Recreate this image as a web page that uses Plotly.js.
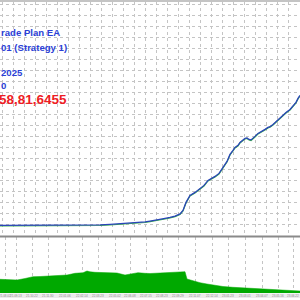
<!DOCTYPE html>
<html><head><meta charset="utf-8">
<script src="https://cdn.plot.ly/plotly-3.0.1.min.js"></script>
<style>html,body{margin:0;padding:0;background:#fff}#c{width:300px;height:300px}</style>
</head><body><div id="c"></div>
<script>
// Main chart: balance/equity (arbitrary units)
const mainX = [0,20,40,60,70,80,100,110,120,130,140,145,150,155,160,165,170,175,180,183,186,188,190,195,200,204,208,212,215,219,222,225,227,230,233,235,238,240,243,245,247,249,251,253,255,258,260,263,265,268,270,273,275,278,280,283,286,290,293,296,298,300];
const mainY = [10,10,10,10,10.2,10.5,10.5,11,11.5,12,13,13.5,14.3,15,16,17,18,19.3,21.5,25,33,37,40,43,47,50,55,57,59,62,66,71,74,81,85,88,90,93,95.5,97,97.5,96,95.5,97,99,102,103,105,106,108,108.7,111,113,115.5,118,120.5,123,126,130,133,137,140];
// Bottom panel: green area values
const subX = [0,8,17,25,33,40,50,60,67,75,83,87,90,95,100,110,117,125,133,138,145,150,160,167,175,180,185,187,190,195,200,207,213,223,233,250,267,283,300];
const subY = [13.7,13.5,13,14.5,16.3,16.5,17,17.5,18,19.7,20.3,22,21.2,20.7,20.5,20.2,20,18,19,20.3,19.7,19.5,20,20.3,20.5,21,21.3,14,13,11.5,10.3,9,8,6.5,5.7,4.7,3.7,3,2];
const dateTicks = [5,16,32,48,65,82,98,115,130,146,162,178,195,212,228,245,262,278,293];
const dateLabels = ["21.08.02","21.09.13","21.10.22","21.11.30","22.01.06","22.02.14","22.03.23","22.05.02","22.06.08","22.07.15","22.08.23","22.09.29","22.11.07","22.12.14","23.01.23","23.03.01","23.04.07","23.05.16","23.06.22"];
const textLines = ["rade Plan EA","01 (Strategy 1)","2025","0"];
const bigText = "58,81,6455";

const blue = "#2a45b8";
const traces = [
  {x: mainX, y: mainY, type:"scatter", mode:"lines", line:{color:"#3cb34a", width:1.2}, xaxis:"x", yaxis:"y", hoverinfo:"skip"},
  {x: mainX, y: mainY.map(v=>v+0.6), type:"scatter", mode:"lines", line:{color:blue, width:1.3}, xaxis:"x", yaxis:"y", hoverinfo:"skip"},
  {x: subX, y: subY, type:"scatter", mode:"lines", fill:"tozeroy", fillcolor:"#00a900", line:{color:"#00a900", width:0.5}, xaxis:"x2", yaxis:"y2", hoverinfo:"skip"}
];
const ann = [];
const ys = [33,47.5,72.5,86];
textLines.forEach((t,i)=>ann.push({text:t, xref:"paper", yref:"paper", x:0, y:1-ys[i]/300, xanchor:"left", yanchor:"middle", xshift:-1, showarrow:false, font:{family:"Liberation Sans, Arial", size:9.6, color:"#2b3fd6", weight:"bold"}}));
ann.push({text:bigText, xref:"paper", yref:"paper", x:0, y:1-100/300, xanchor:"left", yanchor:"middle", xshift:-3, showarrow:false, font:{family:"Liberation Sans, Arial", size:13.5, color:"#ee1c24", weight:"bold"}});
dateTicks.forEach((v,i)=>ann.push({text:dateLabels[i], xref:"x2", yref:"paper", x:v, y:1-295.8/300, xanchor:"center", yanchor:"middle", showarrow:false, font:{family:"Liberation Sans, Arial", size:3, color:"#8a8a8a"}}));

const layout = {
  width:300, height:300, margin:{l:0,r:0,t:0,b:0}, paper_bgcolor:"#fff", plot_bgcolor:"#fff", showlegend:false,
  xaxis:{domain:[0,1], range:[0,300], dtick:11, tick0:2, showgrid:true, gridcolor:"#c4c4c4", griddash:"dot", gridwidth:1, showticklabels:false, zeroline:false, ticks:"", anchor:"y"},
  yaxis:{domain:[1-236/300, 1-1.5/300], range:[0,234.5], dtick:11, tick0:1, showgrid:true, gridcolor:"#c4c4c4", griddash:"dot", showticklabels:false, zeroline:false, ticks:""},
  xaxis2:{domain:[0,1], range:[0,300], anchor:"y2", tickvals:dateTicks, showgrid:true, gridcolor:"#c4c4c4", griddash:"dot", showticklabels:false, ticks:"", zeroline:false},
  yaxis2:{domain:[1-293/300, 1-237/300], range:[0,56], showgrid:false, showticklabels:false, zeroline:false, ticks:""},
  shapes:[
    {type:"line", xref:"paper", yref:"paper", x0:0, x1:1, y0:1-1/300, y1:1-1/300, line:{color:"#b0b0b0", width:1.5}},
    {type:"line", xref:"paper", yref:"paper", x0:0, x1:1, y0:1-236.5/300, y1:1-236.5/300, line:{color:"#8a8a8a", width:2}},
    {type:"rect", xref:"paper", yref:"paper", x0:0, x1:1, y0:1-298/300, y1:1-293.5/300, fillcolor:"#ececec", line:{width:0}, layer:"below"}
  ],
  annotations: ann
};
Plotly.newPlot("c", traces, layout, {staticPlot:true, displayModeBar:false});
</script></body></html>
